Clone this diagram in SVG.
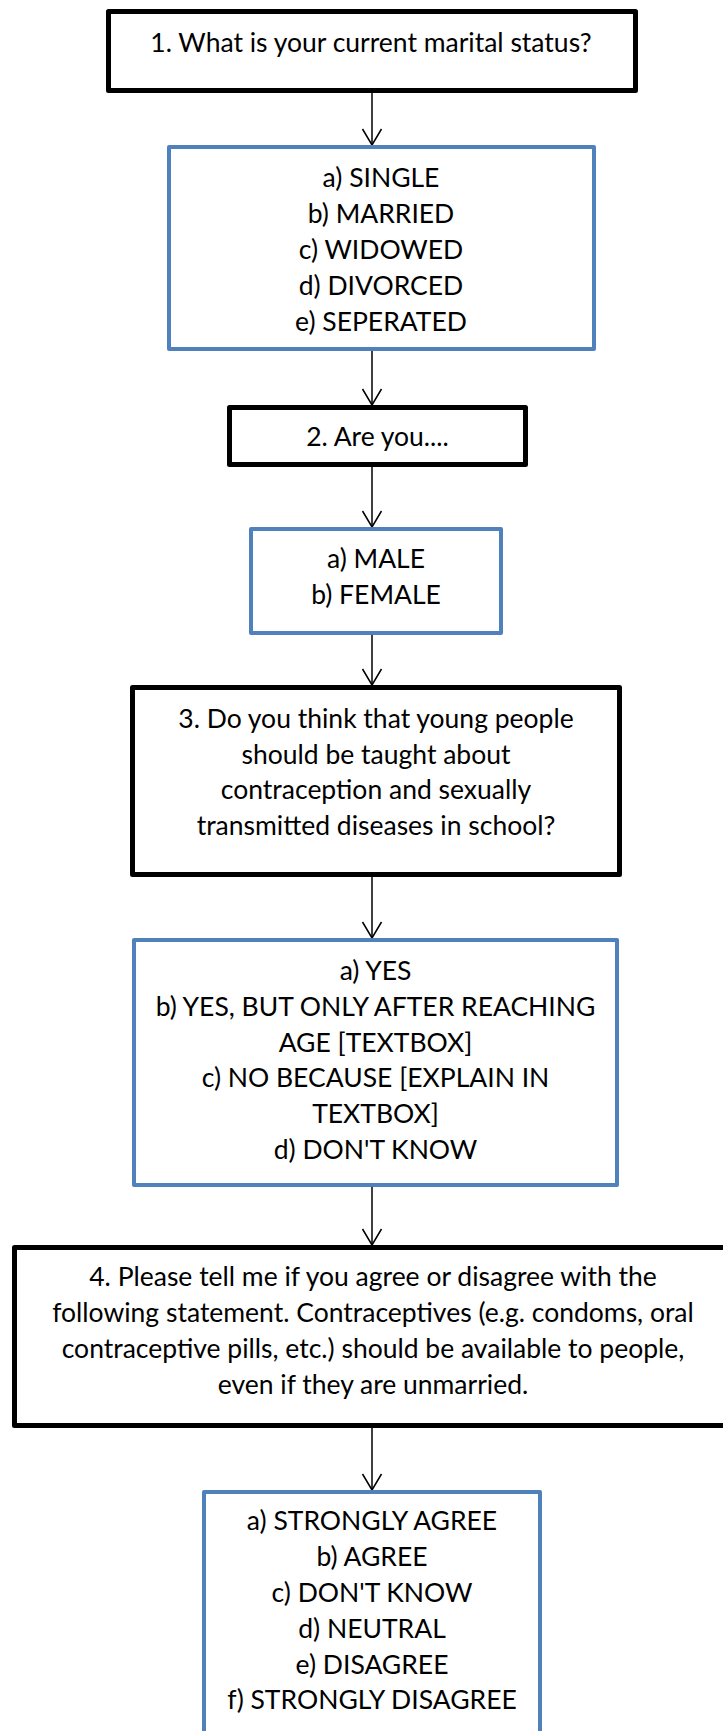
<svg xmlns="http://www.w3.org/2000/svg" width="723" height="1731" viewBox="0 0 723 1731">
  <style>
    .q { fill: #fff; stroke: #000; stroke-width: 5; stroke-linejoin: round; }
    .a { fill: #fff; stroke: #4F81BD; stroke-width: 4; stroke-linejoin: round; }
    text { font-family: Lato, "Open Sans", "Liberation Sans", sans-serif; font-size: 26.5px; fill: #000; text-anchor: middle; }
    .link { stroke: #000; stroke-width: 1.5; fill: none; marker-end: url(#vhead); }
  </style>
  <defs>
    <marker id="vhead" markerUnits="userSpaceOnUse" markerWidth="20" markerHeight="22" viewBox="-17 -11 18 22" refX="0" refY="0" orient="auto" overflow="visible">
      <path d="M -16 -9.5 L 0 0 L -16 9.5" fill="none" stroke="#000" stroke-width="1.5"/>
    </marker>
  </defs>

  <!-- connectors -->
  <g id="connectors">
    <line class="link" x1="372" y1="93" x2="372" y2="145"/>
    <line class="link" x1="372" y1="351" x2="372" y2="405"/>
    <line class="link" x1="372" y1="467" x2="372" y2="527"/>
    <line class="link" x1="372" y1="635" x2="372" y2="685"/>
    <line class="link" x1="372" y1="877" x2="372" y2="938"/>
    <line class="link" x1="372" y1="1187" x2="372" y2="1245"/>
    <line class="link" x1="372" y1="1428" x2="372" y2="1490"/>
  </g>

  <!-- question 1 -->
  <g id="q1">
    <rect class="q" x="108.5" y="11.5" width="527" height="79"/>
    <text x="371" y="51.5">1. What is your current marital status?</text>
  </g>

  <g id="a1">
    <rect class="a" x="169" y="147" width="425" height="202"/>
    <text x="381" y="187">a) SINGLE</text>
    <text x="381" y="223">b) MARRIED</text>
    <text x="381" y="259">c) WIDOWED</text>
    <text x="381" y="295">d) DIVORCED</text>
    <text x="381" y="331">e) SEPERATED</text>
  </g>

  <!-- question 2 -->
  <g id="q2">
    <rect class="q" x="229.5" y="407.5" width="296" height="57"/>
    <text x="377.5" y="446">2. Are you....</text>
  </g>

  <g id="a2">
    <rect class="a" x="251" y="529" width="250" height="104"/>
    <text x="376" y="568">a) MALE</text>
    <text x="376" y="603.5">b) FEMALE</text>
  </g>

  <!-- question 3 -->
  <g id="q3">
    <rect class="q" x="132.5" y="687.5" width="487" height="187"/>
    <text x="376" y="728">3. Do you think that young people</text>
    <text x="376" y="763.5">should be taught about</text>
    <text x="376" y="799">contraception and sexually</text>
    <text x="376" y="834.5">transmitted diseases in school?</text>
  </g>

  <g id="a3">
    <rect class="a" x="134" y="940" width="483" height="245"/>
    <text x="375.5" y="980">a) YES</text>
    <text x="375.5" y="1015.8">b) YES, BUT ONLY AFTER REACHING</text>
    <text x="375.5" y="1051.6">AGE [TEXTBOX]</text>
    <text x="375.5" y="1087.4">c) NO BECAUSE [EXPLAIN IN</text>
    <text x="375.5" y="1123.2">TEXTBOX]</text>
    <text x="375.5" y="1159">d) DON'T KNOW</text>
  </g>

  <!-- question 4 -->
  <g id="q4">
    <rect class="q" x="14.5" y="1247.5" width="720" height="178"/>
    <text x="373" y="1286">4. Please tell me if you agree or disagree with the</text>
    <text x="373" y="1322">following statement. Contraceptives (e.g. condoms, oral</text>
    <text x="373" y="1358">contraceptive pills, etc.) should be available to people,</text>
    <text x="373" y="1394">even if they are unmarried.</text>
  </g>

  <g id="a4">
    <rect class="a" x="204" y="1492" width="336" height="260"/>
    <text x="372" y="1530">a) STRONGLY AGREE</text>
    <text x="372" y="1566">b) AGREE</text>
    <text x="372" y="1602">c) DON'T KNOW</text>
    <text x="372" y="1638">d) NEUTRAL</text>
    <text x="372" y="1673.5">e) DISAGREE</text>
    <text x="372" y="1709">f) STRONGLY DISAGREE</text>
  </g>
</svg>
